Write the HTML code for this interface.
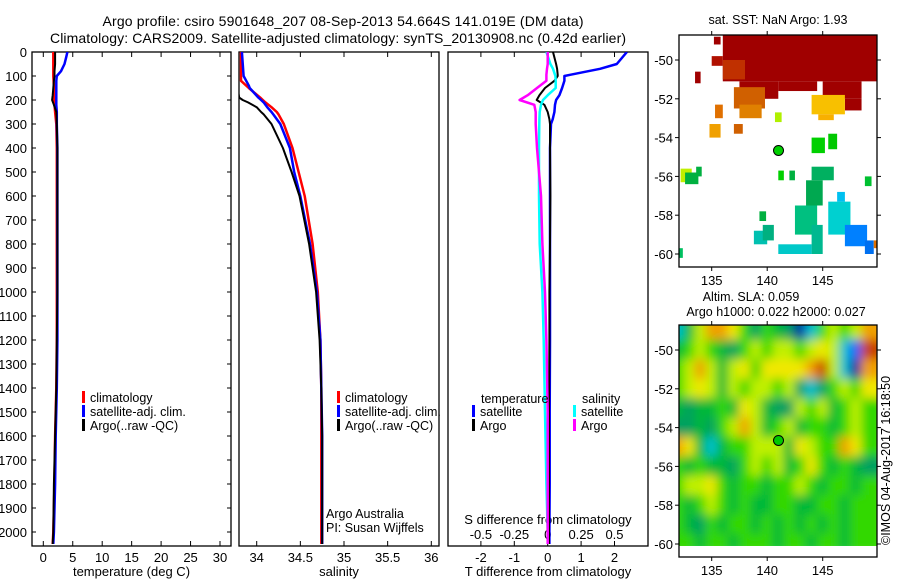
<!DOCTYPE html>
<html><head><meta charset="utf-8"><style>
body{margin:0;background:#fff}
svg{display:block;font-family:"Liberation Sans",sans-serif}
text{fill:#000}
</style></head><body>
<svg id="fig" width="900" height="580" viewBox="0 0 900 580">
<defs>
<clipPath id="c1"><rect x="32" y="52" width="199" height="494"/></clipPath>
<clipPath id="c2"><rect x="239" y="52" width="200" height="494"/></clipPath>
<clipPath id="c3"><rect x="448" y="52" width="200" height="494"/></clipPath>
<clipPath id="cm1"><rect x="679" y="35" width="198" height="232"/></clipPath>
<clipPath id="cm2"><rect x="679" y="325" width="198" height="221"/></clipPath>
<filter id="blur" filterUnits="userSpaceOnUse" x="650" y="300" width="260" height="280"><feGaussianBlur stdDeviation="5"/></filter>
</defs>
<text x="343" y="26" font-size="14" text-anchor="middle" textLength="481">Argo profile: csiro 5901648_207 08-Sep-2013 54.664S 141.019E (DM data)</text>
<text x="338" y="43" font-size="14" text-anchor="middle" textLength="576">Climatology: CARS2009. Satellite-adjusted climatology: synTS_20130908.nc (0.42d earlier)</text>
<g id="g1"></g>
<g id="g2"></g>
<g id="g3"></g>
<g id="m1"></g>
<g id="m2"></g>
<text x="778" y="24" font-size="12.5" text-anchor="middle">sat. SST: NaN Argo: 1.93</text>
<text x="751" y="301" font-size="12.5" text-anchor="middle">Altim. SLA: 0.059</text>
<text x="776" y="316" font-size="12.5" text-anchor="middle">Argo h1000: 0.022 h2000: 0.027</text>
<text transform="translate(890,545) rotate(-90)" font-size="12.5">©IMOS 04-Aug-2017 16:18:50</text>
</svg>
<script>
// ---- profile data ----
const tDepth=[0,20,50,80,100,120,150,180,200,220,250,300,400,500,600,800,1000,1200,1400,1600,1800,2000,2050];
const tClim=[1.7,1.7,1.7,1.7,1.7,1.75,1.8,1.8,1.85,1.9,2.0,2.2,2.3,2.3,2.3,2.3,2.3,2.3,2.2,2.0,1.9,1.7,1.6];
const tSat=[4.1,3.9,3.6,3.0,2.3,2.2,2.2,2.2,2.2,2.2,2.3,2.3,2.4,2.4,2.4,2.4,2.4,2.4,2.3,2.1,2.0,1.8,1.7];
const tArgo=[2.0,2.0,2.0,1.9,1.9,1.8,1.7,1.6,1.5,1.8,2.2,2.3,2.4,2.4,2.4,2.4,2.4,2.3,2.2,2.0,1.8,1.7,1.6];
const sDepth=[0,100,120,140,150,190,200,210,230,250,260,300,400,500,600,800,1000,1200,1400,1600,2000,2050];
const sClim=[33.82,33.82,33.82,33.88,33.91,34.04,34.07,34.10,34.17,34.23,34.25,34.31,34.41,34.48,34.55,34.64,34.70,34.73,34.74,34.74,34.74,34.74];
const sSat=[33.83,33.85,33.88,33.91,33.92,34.02,34.05,34.08,34.12,34.17,34.19,34.27,34.38,34.43,34.50,34.61,34.69,34.73,34.74,34.75,34.75,34.75];
const sArgo=[33.78,33.78,33.78,33.78,33.78,33.80,33.84,33.90,34.0,34.05,34.08,34.17,34.30,34.40,34.49,34.60,34.68,34.72,34.74,34.75,34.75,34.75];
const dDepth=[0,50,70,95,100,120,150,180,200,220,250,280,300,400,600,800,1000,1200,1500,1800,2000,2050];
const dTSat=[2.37,2.07,1.57,0.67,0.5,0.5,0.43,0.35,0.25,0.22,0.2,0.15,0.1,0.07,0.07,0.07,0.07,0.07,0.06,0.06,0.05,0.05];
const dTArgo=[0.16,0.25,0.28,0.3,0.3,0.2,-0.08,-0.25,-0.33,-0.1,0.0,0.05,0.07,0.07,0.08,0.07,0.05,0.05,0.04,0.04,0.04,0.04];
const dSSat=[-0.01,0.02,0.04,0.055,0.058,0.06,0.06,0.0,-0.035,-0.05,-0.06,-0.062,-0.063,-0.065,-0.065,-0.06,-0.04,-0.03,-0.02,-0.01,0.0,0.0];
const dSArgo=[0.0,0.0,-0.005,-0.01,-0.01,-0.01,-0.08,-0.15,-0.21,-0.1,-0.09,-0.09,-0.09,-0.08,-0.05,-0.04,-0.02,-0.01,0.0,0.0,0.0,0.0];
const depthTicks=[0,100,200,300,400,500,600,700,800,900,1000,1100,1200,1300,1400,1500,1600,1700,1800,1900,2000];
const tTicks=[0,5,10,15,20,25,30];
const sTicks=[34,34.5,35,35.5,36];
const sTickLabels=["34","34.5","35","35.5","36"];
const dTTicks=[-2,-1,0,1,2];
const dSTicks=[-0.5,-0.25,0,0.25,0.5];
const dSTickLabels=["-0.5","-0.25","0","0.25","0.5"];
// ---- map data ----
const lonTicks=[135,140,145];
const latTicks=[-50,-52,-54,-56,-58,-60];
const argoLon=141.019, argoLat=-54.664;
const sstPatches=[
[136,149.9,-48.7,-51.1,"#a00000"],[137.5,141,-51.1,-52,"#a00000"],[141,144.5,-51.1,-51.6,"#a00000"],[145,148.5,-51.1,-52,"#a00000"],[147,148.5,-52,-52.6,"#a00000"],
[135.2,135.8,-48.8,-49.2,"#a00000"],[133.5,134,-50.6,-51.2,"#a00000"],[135,136,-49.8,-50.3,"#b01000"],
[136,138,-50,-51,"#c03000"],[137,139.8,-51.4,-52.5,"#d06000"],[137.5,139.5,-52.3,-53,"#e08000"],[135.3,136,-52.3,-53,"#e07000"],
[134.8,135.8,-53.3,-54,"#f0a000"],[137,137.8,-53.3,-53.8,"#d06000"],[144,147,-51.8,-52.8,"#f8c000"],[144.6,146,-52.8,-53.1,"#f8b000"],
[140.7,141.3,-52.7,-53.2,"#b0f000"],[144,145.2,-54,-54.8,"#00d000"],[145.5,146.3,-53.8,-54.6,"#00c800"],[148.8,149.4,-56,-56.5,"#00c030"],
[141,141.5,-55.7,-56.2,"#00d000"],[142,142.5,-55.7,-56.2,"#00b040"],[144,146,-55.5,-56.2,"#00b060"],[143.5,145,-56.2,-57.5,"#00a850"],
[139.3,139.9,-57.8,-58.3,"#00b040"],[142.5,144.5,-57.5,-59,"#00c080"],[145.5,147.5,-57.3,-59,"#00d0d0"],[146.3,147,-56.8,-57.3,"#00c0f0"],
[144,145,-58.5,-60,"#00b890"],[147,149,-58.5,-59.6,"#0080ff"],[148.8,149.6,-59.3,-60,"#0070f0"],[141,144,-59.5,-60,"#00c8c8"],
[138.8,140,-58.8,-59.5,"#00c0b0"],[139.6,140.6,-58.5,-59.3,"#00b080"],[132.2,133.2,-55.6,-56.3,"#c0f000"],[132.6,133.8,-55.8,-56.4,"#00b040"],
[133.6,134.1,-55.5,-56,"#00b040"],[132.1,132.4,-59.7,-60.2,"#00c060"],[149.6,149.9,-59.3,-59.7,"#e07000"]];
const slaLats=[-49,-50,-51,-52,-53,-54,-55,-56,-57,-58,-59,-60];
const slaLons=[132,133,134,135,136,137,138,139,140,141,142,143,144,145,146,147,148,149];
const slaGrid=[
[-2,0,2,4,4,3,1,-1,1,0,-1,-4,-2,1,2,1,2,4],
[0,1,2,1,0,-1,1,2,1,2,2,1,2,3,2,-2,-3,5],
[1,2,4,2,0,2,3,1,3,3,3,3,4,5,2,-2,-4,4],
[1,2,3,2,0,2,1,2,2,1,2,-1,-2,-1,1,2,1,3],
[0,-1,0,0,1,0,3,2,0,-1,-1,2,1,2,0,1,2,1],
[-1,-1,0,-1,1,2,4,2,0,1,2,0,1,1,0,1,2,1],
[4,3,0,-2,0,1,1,2,2,2,0,3,2,1,1,4,3,1],
[1,0,1,0,0,-1,1,2,1,2,0,1,3,1,0,1,0,-1],
[1,2,2,3,1,0,1,1,0,1,1,2,1,0,1,1,0,1],
[1,0,1,2,1,0,1,0,0,1,1,0,0,1,1,0,1,1],
[1,0,-1,1,0,1,1,0,1,0,1,0,1,0,1,0,1,1],
[1,1,0,1,1,0,1,1,1,0,1,1,0,1,1,0,1,1]];
const slaColours={"-4":"#0010a0","-3":"#0060ff","-2":"#00c0d0","-1":"#00a060","0":"#00b838","1":"#30d800","2":"#c0f000","3":"#f0e800","4":"#f0a000","5":"#c84000"};

const NS="http://www.w3.org/2000/svg";
function mk(par,tag,at){const e=document.createElementNS(NS,tag);for(const k in at)e.setAttribute(k,at[k]);par.appendChild(e);return e;}
const yD=d=>52+d*0.24;
function txt(par,x,y,s,anchor,size){const t=mk(par,"text",{x:x,y:y,"font-size":size||13,"text-anchor":anchor||"middle"});t.textContent=s;return t;}

function panel(g,x0,x1,clip,xs,ticks,labels,xlabel,pname){
  const r=mk(g,"rect",{x:x0,y:52,width:x1-x0,height:494,fill:"none",stroke:"#000","stroke-width":1.3});
  
  
  ticks.forEach((v,i)=>{const x=xs(v);
    mk(g,"line",{x1:x,x2:x,y1:52,y2:57,stroke:"#000"});
    mk(g,"line",{x1:x,x2:x,y1:546,y2:541,stroke:"#000"});
    if(labels){const t=txt(g,x,562,labels[i]);
      
      }
  });
  if(xlabel){const t=txt(g,(x0+x1)/2,576,xlabel);
    
    }
}
function line(g,xs,vals,deps,col,w,clip,name){
  const pts=vals.map((v,i)=>xs(v).toFixed(1)+","+yD(deps[i]).toFixed(1)).join(" ");
  const p=mk(g,"polyline",{points:pts,fill:"none",stroke:col,"stroke-width":w,"clip-path":"url(#"+clip+")","stroke-linejoin":"round"});
  
  
}
function legend(g,x,y,col,label,name){
  const b=mk(g,"rect",{x:x,y:y-6,width:3,height:12,fill:col});
  
  
  const t=txt(g,x+8,y+5,label,"start",12.5);
  
  
}
const g1=document.getElementById("g1");
const xT=v=>43.3+v*5.89;
panel(g1,32,231,"c1",xT,tTicks,tTicks.map(String),"temperature (deg C)","temperature-panel");
depthTicks.forEach(d=>{const y=yD(d);
  mk(g1,"line",{x1:32,x2:36,y1:y,y2:y,stroke:"#000"});
  mk(g1,"line",{x1:231,x2:227,y1:y,y2:y,stroke:"#000"});
  const t=txt(g1,27,y+5,String(d),"end");
  
  
});
line(g1,xT,tClim,tDepth,"#ff0000",2.5,"c1","temperature-climatology-line");
line(g1,xT,tSat,tDepth,"#0000ff",2.5,"c1","temperature-satellite-line");
line(g1,xT,tArgo,tDepth,"#000000",2,"c1","temperature-argo-line");
legend(g1,82,397,"#ff0000","climatology","legend-climatology");
legend(g1,82,411,"#0000ff","satellite-adj. clim.","legend-satellite-adj");
legend(g1,82,425,"#000000","Argo(..raw -QC)","legend-argo");
const g2=document.getElementById("g2");
const xS=v=>256.7+(v-34)*87.3;
panel(g2,239,439,"c2",xS,sTicks,sTickLabels,"salinity","salinity-panel");
line(g2,xS,sClim,sDepth,"#ff0000",2.5,"c2","salinity-climatology-line");
line(g2,xS,sSat,sDepth,"#0000ff",2.5,"c2","salinity-satellite-line");
line(g2,xS,sArgo,sDepth,"#000000",2,"c2","salinity-argo-line");
legend(g2,337,397,"#ff0000","climatology","legend-climatology-2");
legend(g2,337,411,"#0000ff","satellite-adj. clim.","legend-satellite-adj-2");
legend(g2,337,425,"#000000","Argo(..raw -QC)","legend-argo-2");
let t=txt(g2,326,518,"Argo Australia","start",12.5);


t=txt(g2,326,532,"PI: Susan Wijffels","start",12.5);


const g3=document.getElementById("g3");
const xDT=v=>547.7+v*33.4;
const xDS=v=>547.7+v*133.6;
panel(g3,448,648,"c3",xDT,dTTicks,dTTicks.map(String),"T difference from climatology","difference-panel");
dSTicks.forEach((v,i)=>{const tt=txt(g3,xDS(v),539,dSTickLabels[i]);
  
  });
t=txt(g3,548,524,"S difference from climatology");


line(g3,xDT,dTSat,dDepth,"#0000ff",2.5,"c3","t-diff-satellite-line");
line(g3,xDT,dTArgo,dDepth,"#000000",2,"c3","t-diff-argo-line");
line(g3,xDS,dSSat,dDepth,"#00ffff",2.5,"c3","s-diff-satellite-line");
line(g3,xDS,dSArgo,dDepth,"#ff00ff",2.5,"c3","s-diff-argo-line");
t=txt(g3,481,403,"temperature","start",12.5);


t=txt(g3,582,403,"salinity","start",12.5);


legend(g3,472,411,"#0000ff","satellite","legend-t-satellite");
legend(g3,472,425,"#000000","Argo","legend-t-argo");
legend(g3,573,411,"#00ffff","satellite","legend-s-satellite");
legend(g3,573,425,"#ff00ff","Argo","legend-s-argo");
const lonX=v=>711.7+(v-135)*11.1;
function mapFrame(g,top,bot,latOf,name){
  lonTicks.forEach(v=>{const x=lonX(v);
    mk(g,"line",{x1:x,x2:x,y1:top,y2:top-4,stroke:"#000"});
    mk(g,"line",{x1:x,x2:x,y1:bot,y2:bot+4,stroke:"#000"});
    const tt=txt(g,x,bot+18,String(v));
    
    });
  latTicks.forEach(v=>{const y=latOf(v);
    mk(g,"line",{x1:679,x2:675,y1:y,y2:y,stroke:"#000"});
    mk(g,"line",{x1:877,x2:881,y1:y,y2:y,stroke:"#000"});
    const tt=txt(g,673,y+5,String(v),"end");
    
    });
  const r=mk(g,"rect",{x:679,y:top,width:198,height:bot-top,fill:"none",stroke:"#000","stroke-width":1.3});
  
  
}
const m1=document.getElementById("m1");
const lat1=v=>60+(-50-v)*19.4;
const sg=mk(m1,"g",{"clip-path":"url(#cm1)"});
sstPatches.forEach(p=>{
  const r=mk(sg,"rect",{x:lonX(p[0]),y:lat1(p[2]),width:lonX(p[1])-lonX(p[0]),height:lat1(p[3])-lat1(p[2]),fill:p[4]});
  
  
});
mapFrame(m1,35,267,lat1,"sst-map");
let dot=mk(m1,"circle",{cx:lonX(argoLon),cy:lat1(argoLat),r:5,fill:"#00d000",stroke:"#000","stroke-width":1});



const m2=document.getElementById("m2");
const lat2=v=>350+(-50-v)*19.4;
const cg=mk(m2,"g",{"clip-path":"url(#cm2)"});
const bg=mk(cg,"g",{filter:"url(#blur)"});
slaGrid.forEach((row,i)=>row.forEach((v,j)=>{
  const ext=(j===0?12:0), exr=(j===row.length-1?12:0), ext2=(i===0?20:0);
  const r=mk(bg,"rect",{x:lonX(slaLons[j]-0.5)-0.5-ext,y:lat2(slaLats[i]+0.5)-0.5-ext2,width:12.1+ext+exr,height:20.4+ext2,fill:slaColours[String(v)]});
  
  
}));
mapFrame(m2,325,557,lat2,"sla-map");
dot=mk(m2,"circle",{cx:lonX(argoLon),cy:lat2(argoLat),r:5,fill:"#00c800",stroke:"#000","stroke-width":1});


</script>
</body></html>
